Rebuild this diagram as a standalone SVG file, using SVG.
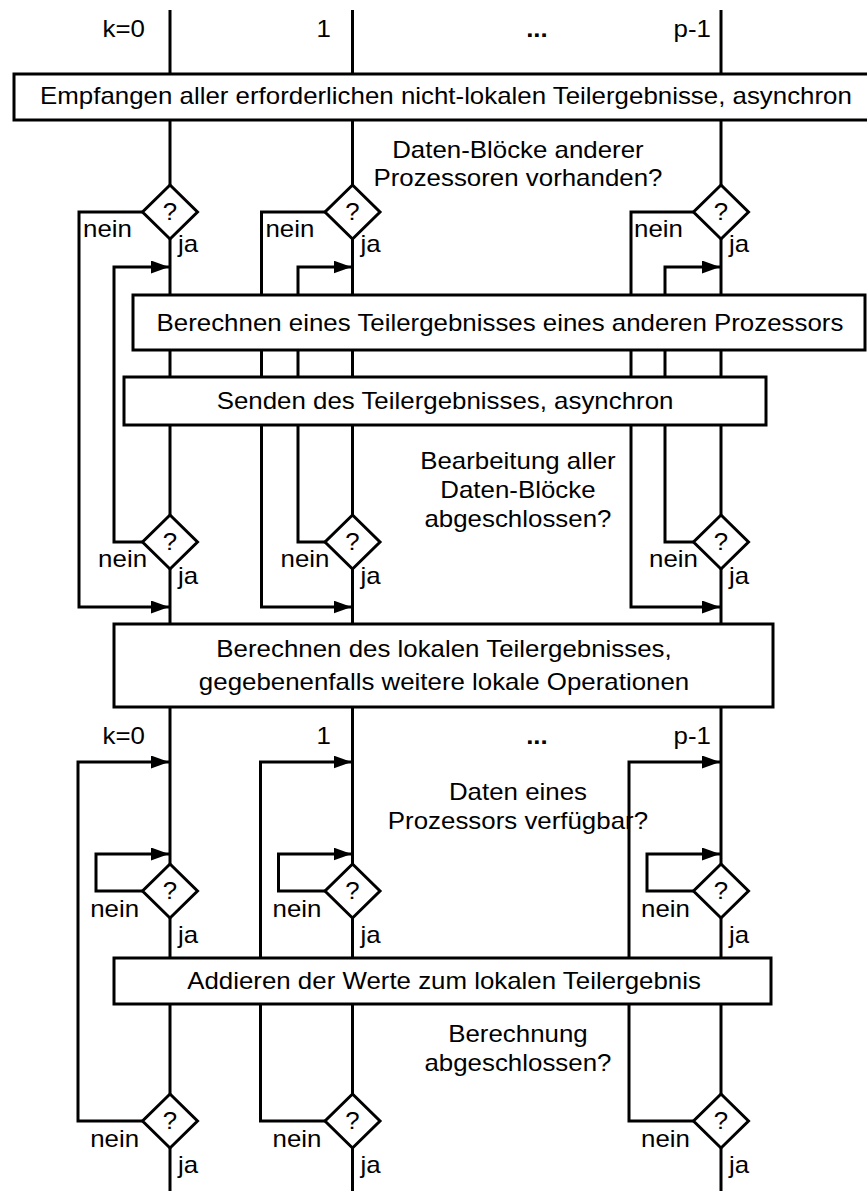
<svg xmlns="http://www.w3.org/2000/svg" width="867" height="1191" viewBox="0 0 867 1191">
<style>
.ln{fill:none;stroke:#000;stroke-width:3;stroke-linejoin:miter}
.bx{fill:#fff;stroke:#000;stroke-width:3}
.dm{fill:#fff;stroke:#000;stroke-width:3;stroke-linejoin:miter}
text{font-family:"Liberation Sans",Arial,Helvetica,sans-serif;font-size:23px;fill:#000;transform:scaleX(1.125)}
.m{text-anchor:middle}
.e{text-anchor:end}
.b{font-weight:bold}
</style>
<defs>
<marker id="ah" markerUnits="userSpaceOnUse" markerWidth="18" markerHeight="13" refX="18" refY="6.5" orient="auto">
<path d="M0,0 L18,6.5 L0,13 z" fill="#000"/>
</marker>
</defs>
<rect width="867" height="1191" fill="#fff"/>
<g id="connectors">
<path class="ln" d="M170,10 V1191 M352.5,10 V1191 M721,10 V1191"/>
<path class="ln" marker-end="url(#ah)" d="M142.5,212 H79 V607 H169"/>
<path class="ln" marker-end="url(#ah)" d="M142.5,542 H114 V267 H169"/>
<path class="ln" marker-end="url(#ah)" d="M325,212 H261.5 V607 H351.5"/>
<path class="ln" marker-end="url(#ah)" d="M325,542 H298 V267 H351.5"/>
<path class="ln" marker-end="url(#ah)" d="M693.5,212 H631 V607 H720"/>
<path class="ln" marker-end="url(#ah)" d="M693.5,542 H665 V267 H720"/>
<path class="ln" marker-end="url(#ah)" d="M142.5,1121 H78 V762 H169"/>
<path class="ln" marker-end="url(#ah)" d="M142.5,891 H96 V854 H169"/>
<path class="ln" marker-end="url(#ah)" d="M325,1121 H260.5 V762 H351.5"/>
<path class="ln" marker-end="url(#ah)" d="M325,891 H278.5 V854 H351.5"/>
<path class="ln" marker-end="url(#ah)" d="M693.5,1121 H629 V762 H720"/>
<path class="ln" marker-end="url(#ah)" d="M693.5,891 H647 V854 H720"/>
</g>
<g id="labels-top">
<text class="e" x="128.9" y="37">k=0</text>
<text class="e" x="294.2" y="37">1</text>
<text class="m b" x="477.3" y="37">...</text>
<text class="e" x="632" y="37">p-1</text>
</g>
<g id="box-empfangen">
<rect class="bx" x="14" y="74" width="870" height="46"/>
<text class="m" x="396.4" y="104">Empfangen aller erforderlichen nicht-lokalen Teilergebnisse, asynchron</text>
</g>
<g id="q-vorhanden">
<text class="m" x="460.4" y="158">Daten-Blöcke anderer</text>
<text class="m" x="460.4" y="186">Prozessoren vorhanden?</text>
</g>
<g id="d-vorhanden-0">
<polygon class="dm" points="170,185 197.5,212 170,239 142.5,212"/>
<text class="m" x="151.1" y="220">?</text>
<text x="73.8" y="237">nein</text>
<text x="158.2" y="252">ja</text>
</g>
<g id="d-vorhanden-1">
<polygon class="dm" points="352.5,185 380,212 352.5,239 325,212"/>
<text class="m" x="313.3" y="220">?</text>
<text x="236" y="237">nein</text>
<text x="320.4" y="252">ja</text>
</g>
<g id="d-vorhanden-2">
<polygon class="dm" points="721,185 748.5,212 721,239 693.5,212"/>
<text class="m" x="640.9" y="220">?</text>
<text x="563.6" y="237">nein</text>
<text x="648" y="252">ja</text>
</g>
<g id="box-berechnen-anderer">
<rect class="bx" x="133" y="295" width="732" height="55"/>
<text class="m" x="444.4" y="331">Berechnen eines Teilergebnisses eines anderen Prozessors</text>
</g>
<g id="box-senden">
<rect class="bx" x="124" y="377" width="642" height="48"/>
<text class="m" x="395.6" y="409">Senden des Teilergebnisses, asynchron</text>
</g>
<g id="q-bearbeitung">
<text class="m" x="460.4" y="469">Bearbeitung aller</text>
<text class="m" x="460.4" y="498">Daten-Blöcke</text>
<text class="m" x="460.4" y="527">abgeschlossen?</text>
</g>
<g id="d-bearbeitung-0">
<polygon class="dm" points="170,515 197.5,542 170,569 142.5,542"/>
<text class="m" x="151.1" y="550">?</text>
<text class="e" x="130.7" y="567">nein</text>
<text x="158.2" y="584">ja</text>
</g>
<g id="d-bearbeitung-1">
<polygon class="dm" points="352.5,515 380,542 352.5,569 325,542"/>
<text class="m" x="313.3" y="550">?</text>
<text class="e" x="292.9" y="567">nein</text>
<text x="320.4" y="584">ja</text>
</g>
<g id="d-bearbeitung-2">
<polygon class="dm" points="721,515 748.5,542 721,569 693.5,542"/>
<text class="m" x="640.9" y="550">?</text>
<text class="e" x="620.4" y="567">nein</text>
<text x="648" y="584">ja</text>
</g>
<g id="box-lokal">
<rect class="bx" x="114" y="624" width="659" height="83"/>
<text class="m" x="394.7" y="657">Berechnen des lokalen Teilergebnisses,</text>
<text class="m" x="394.7" y="690">gegebenenfalls weitere lokale Operationen</text>
</g>
<g id="labels-bottom">
<text class="e" x="128.9" y="744">k=0</text>
<text class="e" x="294.2" y="744">1</text>
<text class="m b" x="477.3" y="744">...</text>
<text class="e" x="632" y="744">p-1</text>
</g>
<g id="q-verfuegbar">
<text class="m" x="460.4" y="800">Daten eines</text>
<text class="m" x="460.4" y="829">Prozessors verfügbar?</text>
</g>
<g id="d-verfuegbar-0">
<polygon class="dm" points="170,864 197.5,891 170,918 142.5,891"/>
<text class="m" x="151.1" y="899">?</text>
<text class="e" x="123.6" y="917">nein</text>
<text x="158.2" y="943">ja</text>
</g>
<g id="d-verfuegbar-1">
<polygon class="dm" points="352.5,864 380,891 352.5,918 325,891"/>
<text class="m" x="313.3" y="899">?</text>
<text class="e" x="285.8" y="917">nein</text>
<text x="320.4" y="943">ja</text>
</g>
<g id="d-verfuegbar-2">
<polygon class="dm" points="721,864 748.5,891 721,918 693.5,891"/>
<text class="m" x="640.9" y="899">?</text>
<text class="e" x="613.3" y="917">nein</text>
<text x="648" y="943">ja</text>
</g>
<g id="box-addieren">
<rect class="bx" x="114" y="958" width="657" height="46"/>
<text class="m" x="394.7" y="989">Addieren der Werte zum lokalen Teilergebnis</text>
</g>
<g id="q-berechnung">
<text class="m" x="460.4" y="1042">Berechnung</text>
<text class="m" x="460.4" y="1071">abgeschlossen?</text>
</g>
<g id="d-berechnung-0">
<polygon class="dm" points="170,1094 197.5,1121 170,1148 142.5,1121"/>
<text class="m" x="151.1" y="1129">?</text>
<text class="e" x="123.6" y="1147">nein</text>
<text x="158.2" y="1173">ja</text>
</g>
<g id="d-berechnung-1">
<polygon class="dm" points="352.5,1094 380,1121 352.5,1148 325,1121"/>
<text class="m" x="313.3" y="1129">?</text>
<text class="e" x="285.8" y="1147">nein</text>
<text x="320.4" y="1173">ja</text>
</g>
<g id="d-berechnung-2">
<polygon class="dm" points="721,1094 748.5,1121 721,1148 693.5,1121"/>
<text class="m" x="640.9" y="1129">?</text>
<text class="e" x="613.3" y="1147">nein</text>
<text x="648" y="1173">ja</text>
</g>
</svg>
